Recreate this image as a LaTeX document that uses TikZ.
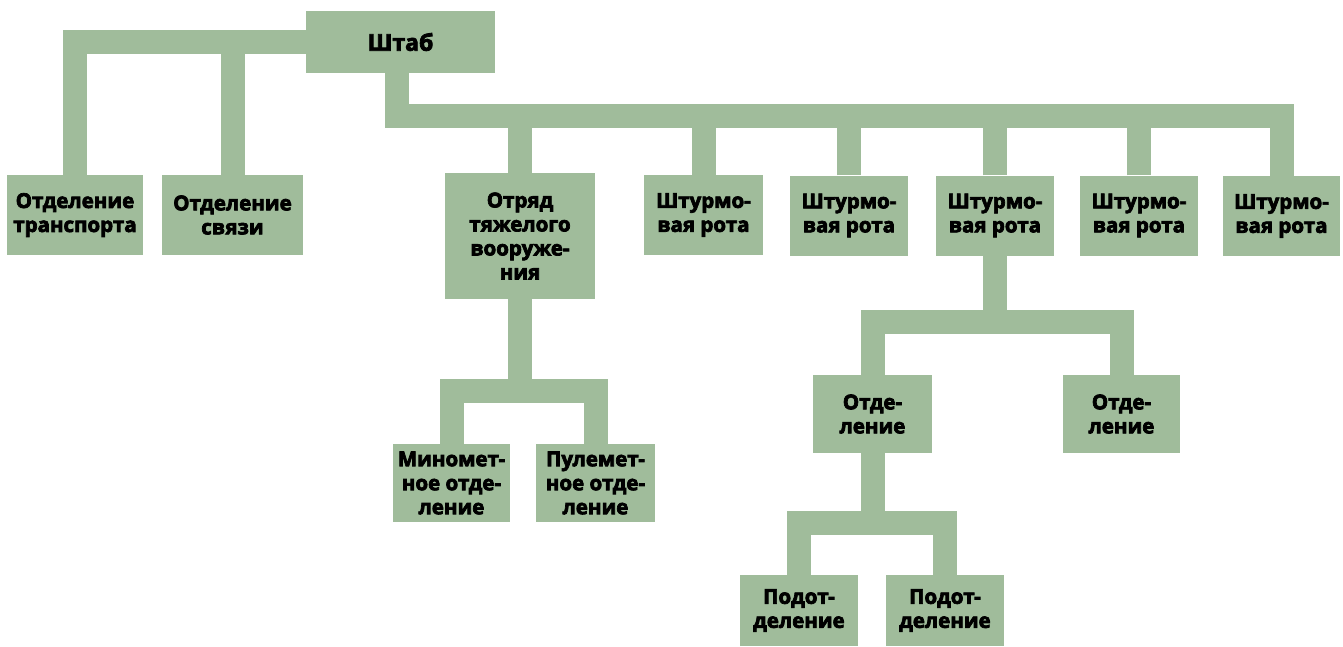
\documentclass[tikz,border=0pt]{standalone}
\usepackage{fontspec}
\setmainfont{Open Sans}
\newfontfamily\heavy{Open Sans}[FakeBold=3.5]
\definecolor{boxgreen}{HTML}{A0BC9B}
\tikzset{
  box/.style={fill=boxgreen, draw=none, inner sep=0pt, align=center, text=black,
    font=\heavy\bfseries\fontsize{20.5}{24}\selectfont},
  conn/.style={draw=boxgreen, line width=24pt, line join=miter, line cap=butt}
}
\begin{document}
\begin{tikzpicture}[x=1pt,y=-1pt]
\useasboundingbox (0,0) rectangle (1343,646);
% bars (y levels)
\coordinate (mbar) at (0,115.5);
\coordinate (obar) at (0,391);
\coordinate (sbar) at (0,322);
\coordinate (pbar) at (0,522.5);
% nodes
\node[box, minimum width=189pt, minimum height=62pt, font=\heavy\bfseries\fontsize{23}{24}\selectfont] (shtab) at (400.5,42) {Штаб};
\node[box, minimum width=136pt, minimum height=80pt] (tr) at (75,215) {Отделение\\транспорта};
\node[box, minimum width=141pt, minimum height=80pt] (sv) at (232.5,215) {Отделение\\связи};
\node[box, minimum width=150pt, minimum height=126pt] (otr) at (520,236) {Отряд\\тяжелого\\вооруже-\\ния};
\node[box, minimum width=119pt, minimum height=80pt] (r1) at (703.5,215) {Штурмо-\\вая рота};
\node[box, minimum width=118pt, minimum height=80pt] (r2) at (849,215.5) {Штурмо-\\вая рота};
\node[box, minimum width=118pt, minimum height=80pt] (r3) at (995,215.5) {Штурмо-\\вая рота};
\node[box, minimum width=118pt, minimum height=80pt] (r4) at (1139,215.5) {Штурмо-\\вая рота};
\node[box, minimum width=117pt, minimum height=80pt] (r5) at (1281.5,216) {Штурмо-\\вая рота};
\node[box, minimum width=117pt, minimum height=78pt] (min) at (451.5,483) {Миномет-\\ное отде-\\ление};
\node[box, minimum width=119pt, minimum height=78pt] (pul) at (595.5,483) {Пулемет-\\ное отде-\\ление};
\node[box, minimum width=119pt, minimum height=78pt] (od1) at (872.5,414) {Отде-\\ление};
\node[box, minimum width=117pt, minimum height=78pt] (od2) at (1121.5,414) {Отде-\\ление};
\node[box, minimum width=118pt, minimum height=71pt] (pd1) at (799,610.5) {Подот-\\деление};
\node[box, minimum width=118pt, minimum height=71pt] (pd2) at (945,610.5) {Подот-\\деление};
% connectors
\draw[conn] (shtab.west) -| (tr.north);
\draw[conn] (sv.north) -- (sv.north |- shtab.west);
\draw[conn] ([xshift=-4pt]shtab.south) -- ([xshift=-4pt]shtab.south |- mbar) -- (r5.north |- mbar) -- (r5.north);
\foreach \n in {otr,r1,r2,r3,r4}{
  \draw[conn] (\n.north) -- (\n.north |- mbar);
}
\draw[conn] (min.north) -- (min.north |- obar) -- (pul.north |- obar) -- (pul.north);
\draw[conn] (otr.south) -- (otr.south |- obar);
\draw[conn] (od1.north) -- (od1.north |- sbar) -- (od2.north |- sbar) -- (od2.north);
\draw[conn] (r3.south) -- (r3.south |- sbar);
\draw[conn] (pd1.north) -- (pd1.north |- pbar) -- (pd2.north |- pbar) -- (pd2.north);
\draw[conn] (od1.south) -- (od1.south |- pbar);
\end{tikzpicture}
\end{document}
